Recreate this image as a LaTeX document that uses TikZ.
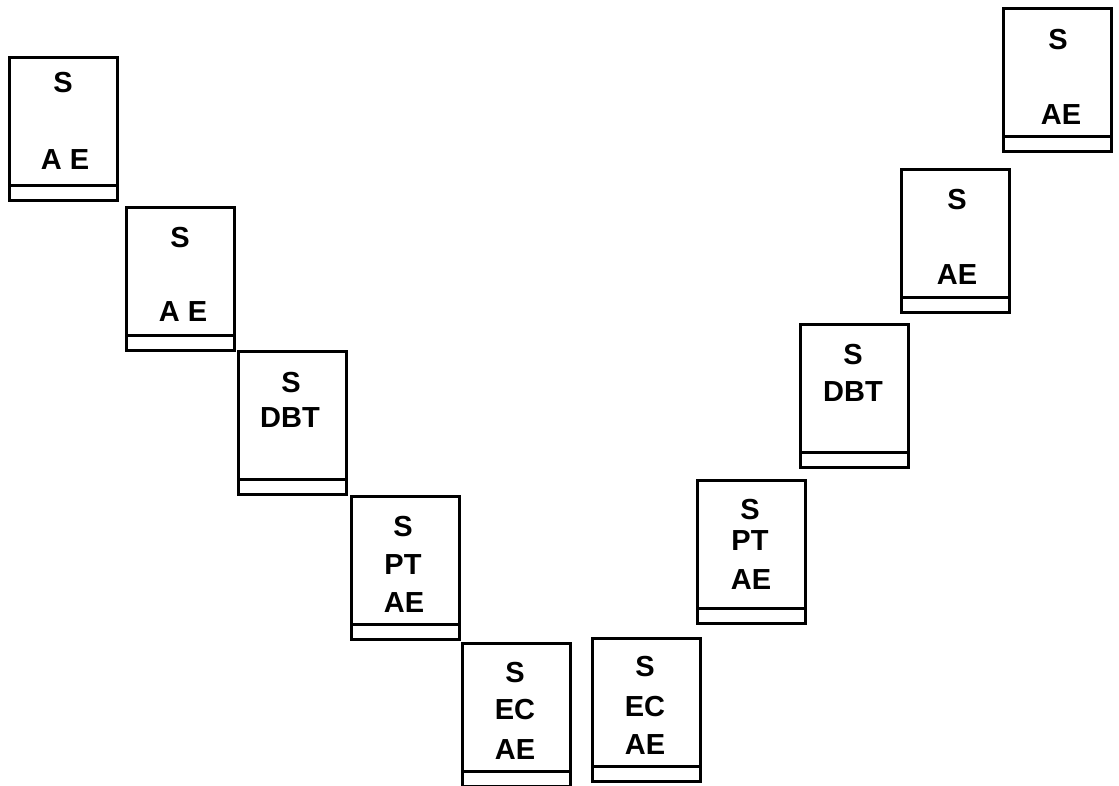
\documentclass[tikz,border=0pt]{standalone}
\usepackage{fontspec}
\setmainfont{Liberation Sans}
\usepackage{tikz}

\tikzset{
  book/.style={draw, line width=3pt, minimum width=108pt, minimum height=143pt, inner sep=0pt,
    path picture={\draw[line width=2.6pt] ([yshift=15pt]path picture bounding box.south west) -- ([yshift=15pt]path picture bounding box.south east);}},
  lbl/.style={font=\fontsize{29}{31}\selectfont\bfseries, inner sep=0pt}
}

\begin{document}
\begin{tikzpicture}[x=1pt,y=-1pt]
              \useasboundingbox (0,0) rectangle (1119,786);
              % left branch
              \node[book] (b1) at (63,129) {};
              \node[lbl] (s1) at (63,83) {S};
              \node[lbl] (a1) at (65,160) {A E};
              \node[book] (b2) at (180,279) {};
              \node[lbl] (s2) at (180,238) {S};
              \node[lbl] (a2) at (183,312) {A E};
              \node[book] (b3) at (292,423) {};
              \node[lbl] (s3) at (291,383) {S};
              \node[lbl] (d3) at (290,418) {DBT};
              \node[book] (b4) at (405,568) {};
              \node[lbl] (s4) at (403,527) {S};
              \node[lbl] (p4) at (403,565) {PT};
              \node[lbl] (a4) at (404,603) {AE};
              \node[book] (b5) at (516,715) {};
              \node[lbl] (s5) at (515,673) {S};
              \node[lbl] (c5) at (515,710) {EC};
              \node[lbl] (a5) at (515,750) {AE};
              % right branch
              \node[book] (b6) at (646,710) {};
              \node[lbl] (s6) at (645,667) {S};
              \node[lbl] (c6) at (645,707) {EC};
              \node[lbl] (a6) at (645,745) {AE};
              \node[book] (b7) at (751,552) {};
              \node[lbl] (s7) at (750,510) {S};
              \node[lbl] (p7) at (750,541) {PT};
              \node[lbl] (a7) at (751,580) {AE};
              \node[book] (b8) at (854,396) {};
              \node[lbl] (s8) at (853,355) {S};
              \node[lbl] (d8) at (853,392) {DBT};
              \node[book] (b9) at (955,241) {};
              \node[lbl] (s9) at (957,200) {S};
              \node[lbl] (a9) at (957,275) {AE};
              \node[book] (b10) at (1057,80) {};
              \node[lbl] (s10) at (1058,40) {S};
              \node[lbl] (a10) at (1061,115) {AE};
          \end{tikzpicture}
\end{document}
